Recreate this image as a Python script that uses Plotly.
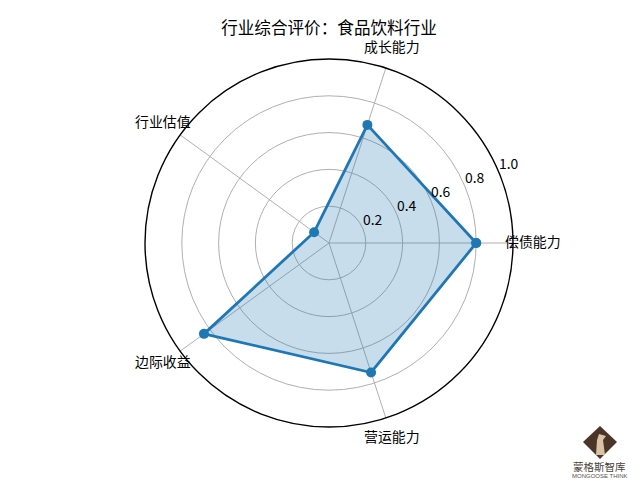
import plotly.graph_objects as go

categories = ["偿债能力", "成长能力", "行业估值", "边际收益", "营运能力"]
angles = [0, 72, 144, 216, 288]
values = [0.80, 0.675, 0.10, 0.84, 0.74]
radial_ticks = [0.2, 0.4, 0.6, 0.8, 1.0]
radial_labels = ["0.2", "0.4", "0.6", "0.8", "1.0"]
label_centres = [(533, 241), (392, 46), (163, 121), (163, 361), (392, 436)]
title = "行业综合评价：食品饮料行业"
CJK = "Noto Sans CJK SC"
BLUE = "#1f77b4"


def px(x):
    return (x - 8) / 640


def py(y):
    return 1 - (y - 8) / 480


fig = go.Figure()
fig.add_trace(go.Scatterpolar(
    r=values + values[:1], theta=angles + angles[:1], mode="lines+markers",
    fill="toself", fillcolor="rgba(31,119,180,0.25)",
    line=dict(color=BLUE, width=2.8), marker=dict(color=BLUE, size=10),
    cliponaxis=False, showlegend=False, hoverinfo="skip"))
fig.add_trace(go.Scatterpolar(
    r=radial_ticks, theta=[22.5] * len(radial_ticks), mode="text", text=radial_labels,
    textposition="top right", textfont=dict(family=CJK, size=13.9, color="black"),
    cliponaxis=False, showlegend=False, hoverinfo="skip"))

annotations = [
    dict(text=c, x=px(cx), y=py(cy), xref="paper", yref="paper", showarrow=False,
         xanchor="center", yanchor="middle", font=dict(family=CJK, size=13.9, color="black"))
    for c, (cx, cy) in zip(categories, label_centres)
]
annotations += [
    dict(text="蒙格斯智库", x=px(599.5), y=py(466), xref="paper", yref="paper", showarrow=False,
         xanchor="center", yanchor="middle", borderpad=0, font=dict(family=CJK, size=10.5, color="#4a3f38")),
    dict(text="MONGOOSE THINK", x=px(599.5), y=py(475.5), xref="paper", yref="paper", showarrow=False,
         xanchor="center", yanchor="middle", borderpad=0, font=dict(family="Liberation Sans", size=6, color="#5a4f48")),
]

fig.update_layout(
    width=640, height=480, autosize=False, paper_bgcolor="white", plot_bgcolor="white",
    margin=dict(l=0, r=0, t=0, b=0), showlegend=False,
    title=dict(text=title, x=px(329), xanchor="center", y=py(28), yanchor="middle",
               font=dict(family=CJK, size=16.6, color="black")),
    polar=dict(
        domain=dict(x=[px(145), px(513)], y=[py(427), py(59)]),
        bgcolor="white",
        angularaxis=dict(tickmode="array", tickvals=angles, showticklabels=False, ticks="",
                         showgrid=True, gridcolor="#b0b0b0", gridwidth=1.1,
                         showline=True, linecolor="black", linewidth=1.4,
                         direction="counterclockwise", rotation=0),
        radialaxis=dict(range=[0, 1], tickmode="array", tickvals=radial_ticks[:-1],
                        showticklabels=False, ticks="", showline=False,
                        showgrid=True, gridcolor="#b0b0b0", gridwidth=1.1),
    ),
    shapes=[
        dict(type="path", xref="paper", yref="paper", layer="above", line=dict(width=0),
             fillcolor="#4a3528",
             path=f"M {px(583)} {py(442)} L {px(600)} {py(426)} L {px(617)} {py(442)} L {px(600)} {py(459)} Z"),
        dict(type="path", xref="paper", yref="paper", layer="above", line=dict(width=0),
             fillcolor="#d8c3a5",
             path=f"M {px(596)} {py(455)} L {px(597)} {py(440)} L {px(599)} {py(434)} L {px(606)} {py(436)} "
                  f"L {px(603)} {py(440)} L {px(605)} {py(455)} Z"),
    ],
    annotations=annotations,
)
fig.write_html("out.html")
